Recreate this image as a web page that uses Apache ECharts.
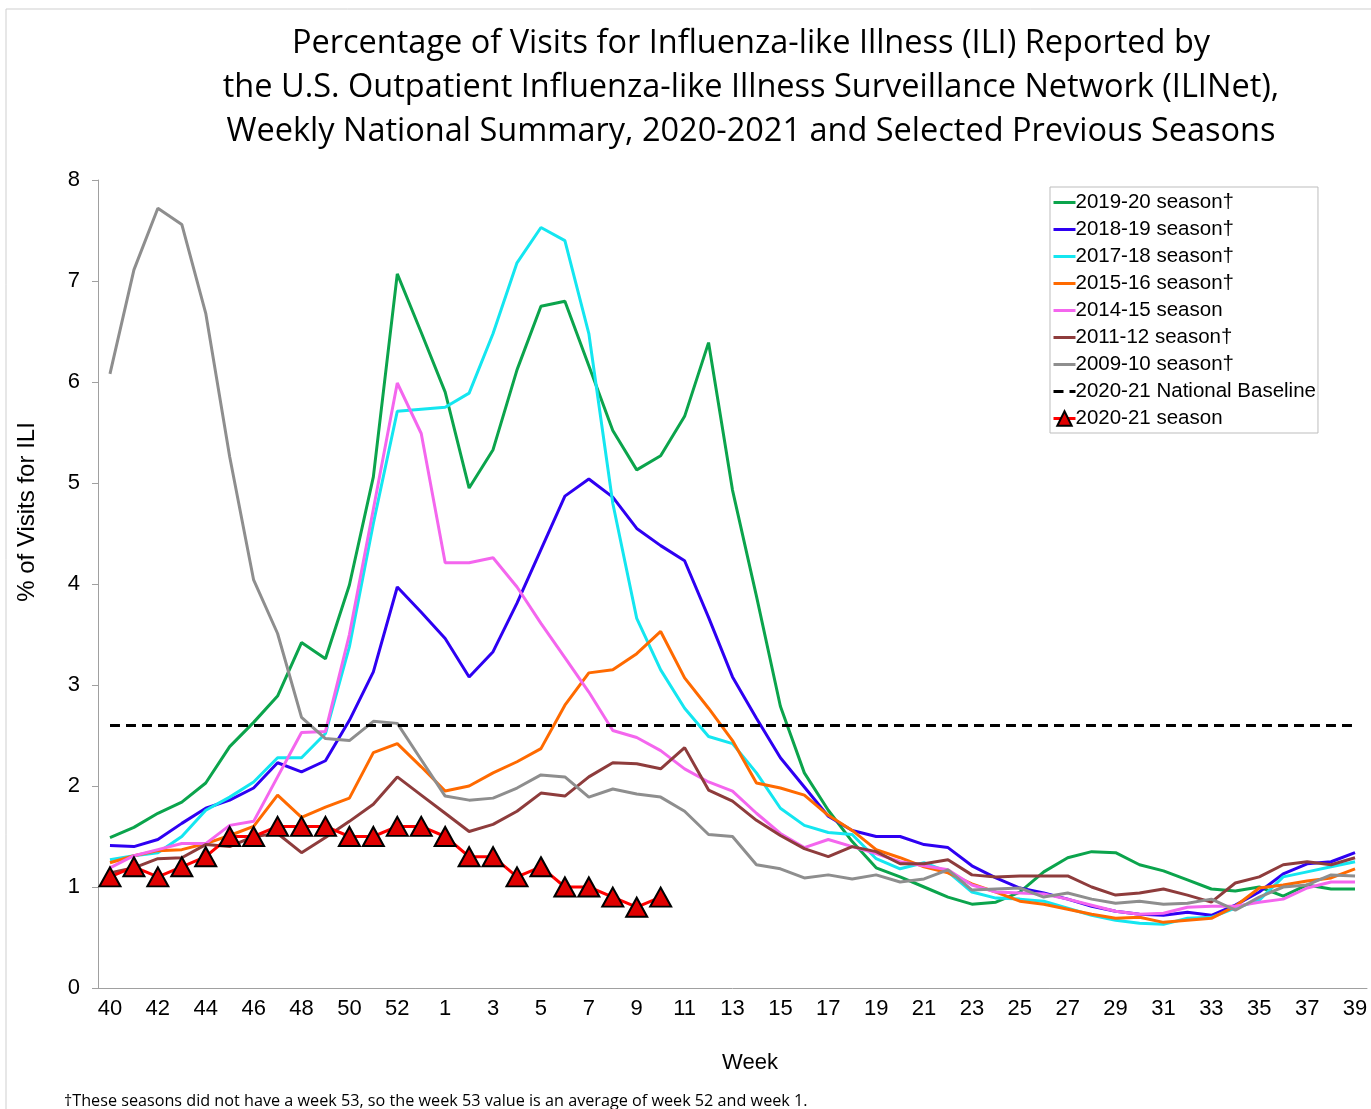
<!DOCTYPE html>
<html>
<head>
<meta charset="utf-8">
<script src="https://cdn.jsdelivr.net/npm/echarts@6/dist/echarts.min.js"></script>
<style>
  html, body { margin: 0; padding: 0; background: #fff; }
  #mainChart { width: 1371px; height: 1109px; }
</style>
</head>
<body>
<div id="mainChart"></div>
<script>
// weeks 40..52, 53, 1..39
var weeks = ['40','41','42','43','44','45','46','47','48','49','50','51','52','53',
  '1','2','3','4','5','6','7','8','9','10','11','12','13','14','15','16','17','18','19',
  '20','21','22','23','24','25','26','27','28','29','30','31','32','33','34','35','36','37','38','39'];

var season1920 = [1.49,1.59,1.73,1.84,2.03,2.39,2.63,2.89,3.42,3.26,3.99,5.06,7.07,6.49,
  5.90,4.95,5.33,6.12,6.75,6.80,6.16,5.52,5.13,5.27,5.66,6.39,4.93,3.88,2.79,2.13,1.76,1.45,1.19,
  1.10,1.00,0.90,0.83,0.85,0.95,1.15,1.29,1.35,1.34,1.22,1.16,1.07,0.98,0.96,1.00,0.91,1.02,0.98,0.98];
var season1819 = [1.41,1.40,1.47,1.63,1.78,1.86,1.98,2.23,2.14,2.25,2.65,3.13,3.97,3.72,
  3.46,3.08,3.33,3.81,4.34,4.87,5.04,4.86,4.55,4.38,4.23,3.67,3.08,2.67,2.28,1.99,1.70,1.56,1.50,
  1.50,1.42,1.39,1.21,1.09,0.99,0.94,0.88,0.81,0.76,0.73,0.72,0.75,0.72,0.82,0.95,1.13,1.23,1.25,1.34];
var season1718 = [1.27,1.31,1.34,1.50,1.76,1.89,2.04,2.28,2.28,2.52,3.38,4.60,5.71,5.73,
  5.75,5.89,6.48,7.18,7.53,7.40,6.48,4.80,3.66,3.15,2.77,2.49,2.42,2.13,1.78,1.61,1.54,1.52,1.28,
  1.18,1.24,1.15,0.95,0.89,0.88,0.86,0.79,0.72,0.67,0.64,0.63,0.69,0.70,0.79,0.87,1.10,1.15,1.20,1.25];
var season1516 = [1.24,1.31,1.36,1.37,1.43,1.51,1.60,1.91,1.69,1.79,1.88,2.33,2.42,2.19,
  1.95,2.00,2.13,2.24,2.37,2.80,3.12,3.15,3.31,3.53,3.07,2.77,2.45,2.03,1.98,1.91,1.71,1.56,1.37,
  1.29,1.20,1.14,1.03,0.95,0.86,0.83,0.78,0.73,0.69,0.70,0.65,0.67,0.69,0.81,0.99,1.02,1.06,1.09,1.18];
var season1415 = [1.19,1.31,1.37,1.43,1.43,1.61,1.65,2.09,2.53,2.54,3.50,4.74,5.99,5.49,
  4.21,4.21,4.26,3.97,3.61,3.27,2.93,2.55,2.48,2.35,2.17,2.04,1.95,1.73,1.53,1.39,1.47,1.40,1.33,
  1.25,1.21,1.17,1.02,0.95,0.94,0.93,0.88,0.82,0.76,0.73,0.74,0.80,0.81,0.81,0.85,0.88,0.99,1.05,1.05];
var season1112 = [1.14,1.19,1.28,1.29,1.42,1.40,1.50,1.53,1.34,1.49,1.65,1.82,2.09,1.91,
  1.73,1.55,1.62,1.75,1.93,1.90,2.09,2.23,2.22,2.17,2.38,1.96,1.85,1.66,1.51,1.38,1.30,1.40,1.35,
  1.23,1.23,1.27,1.12,1.10,1.11,1.11,1.11,1.00,0.92,0.94,0.98,0.92,0.85,1.04,1.10,1.22,1.25,1.22,1.29];
var season0910 = [6.08,7.11,7.72,7.56,6.68,5.26,4.04,3.51,2.68,2.47,2.45,2.64,2.62,2.26,
  1.90,1.86,1.88,1.98,2.11,2.09,1.89,1.97,1.92,1.89,1.75,1.52,1.50,1.22,1.18,1.09,1.12,1.08,1.12,
  1.05,1.08,1.17,0.97,0.98,0.99,0.90,0.94,0.88,0.84,0.86,0.83,0.84,0.88,0.77,0.90,1.00,1.02,1.12,1.11];
var baseline = 2.6;
var season2021 = [1.1,1.2,1.1,1.2,1.3,1.5,1.5,1.6,1.6,1.6,1.5,1.5,1.6,1.6,
  1.5,1.3,1.3,1.1,1.2,1.0,1.0,0.9,0.8,0.9];

var chart = echarts.init(document.getElementById('mainChart'));

function plainLine(name, data, color) {
  return {
    name: name,
    type: 'line',
    data: data,
    symbol: 'none',
    lineStyle: { color: color, width: 3 },
    itemStyle: { color: color }
  };
}

// legend entries: lines only, no marker, except the 2020-21 season
var hideMarker = { color: 'rgba(0,0,0,0)', borderWidth: 0 };
var legendNames = ['2019-20 season†','2018-19 season†','2017-18 season†','2015-16 season†',
  '2014-15 season','2011-12 season†','2009-10 season†','2020-21 National Baseline'];

var option = {
  animation: false,
  backgroundColor: '#fff',
  textStyle: { fontFamily: 'Liberation Sans, Arial, sans-serif' },
  graphic: [
    {
      type: 'rect',
      shape: { x: 6, y: 9, width: 1400, height: 1200 },
      style: { fill: 'none', stroke: '#cfcfcf', lineWidth: 1 },
      silent: true
    },
    {
      type: 'text',
      x: 751, y: 22,
      style: {
        text: 'Percentage of Visits for Influenza-like Illness (ILI) Reported by\nthe U.S. Outpatient Influenza-like Illness Surveillance Network (ILINet),\nWeekly National Summary, 2020-2021 and Selected Previous Seasons',
        font: '32.5px "Open Sans"',
        fill: '#000',
        align: 'center',
        lineHeight: 44
      }
    },
    {
      type: 'text',
      x: 27, y: 512,
      rotation: Math.PI / 2,
      style: {
        text: '% of Visits for ILI',
        font: '24px "Liberation Sans"',
        fill: '#000',
        align: 'center',
        verticalAlign: 'middle'
      }
    },
    {
      type: 'text',
      x: 750, y: 1063,
      style: {
        text: 'Week',
        font: '22px "Liberation Sans"',
        fill: '#000',
        align: 'center',
        verticalAlign: 'middle'
      }
    },
    {
      type: 'text',
      x: 64, y: 1093,
      style: {
        text: '†These seasons did not have a week 53, so the week 53 value is an average of week 52 and week 1.',
        font: '16.2px "Open Sans"',
        fill: '#000'
      }
    }
  ],
  legend: {
    orient: 'vertical',
    left: 1050,
    top: 187,
    width: 268,
    padding: [5, 2, 4, 2],
    itemGap: 6,
    itemWidth: 22,
    itemHeight: 18,
    borderColor: '#bdbdbd',
    borderWidth: 1,
    lineStyle: { width: 3 },
    textStyle: { fontSize: 20.5, color: '#000', lineHeight: 21, padding: [0, 0, 0, -5] },
    data: legendNames.map(function (n) {
      return { name: n, itemStyle: hideMarker };
    }).concat([{ name: '2020-21 season' }])
  },
  grid: { left: 98, right: 4, top: 180, bottom: 121 },
  xAxis: {
    type: 'category',
    data: weeks,
    boundaryGap: true,
    axisLine: { lineStyle: { color: '#a0a0a0', width: 1 } },
    axisTick: { interval: 0, length: 6, lineStyle: { color: '#a0a0a0' } },
    axisLabel: { interval: 1, fontSize: 22, color: '#000', margin: 10 }
  },
  yAxis: {
    type: 'value',
    min: 0,
    max: 8,
    interval: 1,
    axisLine: { show: true, lineStyle: { color: '#a0a0a0', width: 1 } },
    axisTick: { show: true, length: 6, lineStyle: { color: '#a0a0a0' } },
    axisLabel: { fontSize: 22, color: '#000', margin: 18 },
    splitLine: { show: false }
  },
  series: [
    plainLine('2019-20 season†', season1920, '#0ba44c'),
    plainLine('2018-19 season†', season1819, '#2e00f2'),
    plainLine('2017-18 season†', season1718, '#14e6f0'),
    plainLine('2015-16 season†', season1516, '#ff6a00'),
    plainLine('2014-15 season', season1415, '#f466ee'),
    plainLine('2011-12 season†', season1112, '#8e3c3c'),
    plainLine('2009-10 season†', season0910, '#8e8e8e'),
    {
      name: '2020-21 National Baseline',
      type: 'line',
      data: weeks.map(function () { return baseline; }),
      symbol: 'none',
      lineStyle: { color: '#000', width: 3, type: [10, 6] },
      itemStyle: { color: '#000' }
    },
    {
      name: '2020-21 season',
      type: 'line',
      data: season2021,
      symbol: 'triangle',
      symbolSize: [21, 19],
      showAllSymbol: true,
      lineStyle: { color: '#ff0000', width: 3 },
      itemStyle: { color: '#e00000', borderColor: '#000', borderWidth: 2 },
      z: 5
    }
  ]
};

chart.setOption(option);
</script>
</body>
</html>
